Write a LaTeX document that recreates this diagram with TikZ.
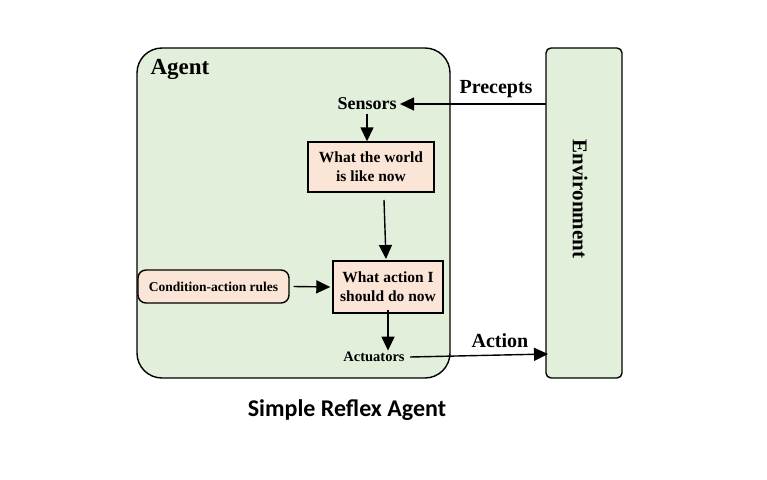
\documentclass[tikz,border=0pt]{standalone}
\usepackage{fontspec}
\setmainfont{Liberation Serif}
\newfontfamily\capfont{Carlito}
\usetikzlibrary{arrows.meta}
\definecolor{agr}{HTML}{E2EFDA}
\definecolor{pch}{HTML}{FBE5D6}
\begin{document}
\begin{tikzpicture}[x=1pt,y=-1pt,
  arr/.style={-{Triangle[length=14pt,width=13pt]},line width=1.4pt},
  box/.style={draw,line width=1.4pt,fill=pch,align=center,font=\bfseries\fontsize{15.5}{19}\selectfont,inner sep=2pt},
  lbl/.style={font=\bfseries\fontsize{18}{20}\selectfont}]
\useasboundingbox (0,0) rectangle (767,479);
\draw[line width=1.4pt,fill=agr,rounded corners=25pt] (137,48) rectangle (450,378);
\draw[line width=1.4pt,fill=agr,rounded corners=5pt] (546,48) rectangle (622,378);
\node[font=\bfseries\fontsize{23}{25}\selectfont,anchor=west] (ag) at (147,69) {Agent};
\node[font=\bfseries\fontsize{21}{23}\selectfont,rotate=-90] (env) at (580,199) {Environment};
\node[lbl] (sen) at (367,104) {Sensors};
\node[box,minimum width=126pt,minimum height=50pt] (b1) at (371,167) {What the world\\is like now};
\node[box,minimum width=110pt,minimum height=52pt] (b2) at (388,287) {What action I\\should do now};
\node[box,rounded corners=8pt,minimum width=151pt,minimum height=33pt,font=\bfseries\fontsize{13.5}{16}\selectfont] (cr) at (213.5,286.5) {Condition-action rules};
\node[font=\bfseries\fontsize{14.5}{16}\selectfont] (act) at (374,357) {Actuators};
\node[font=\bfseries\fontsize{20}{22}\selectfont] (pre) at (496,89) {Precepts};
\node[font=\bfseries\fontsize{20}{22}\selectfont] (ac) at (500,341) {Action};
\node[font=\capfont\bfseries\fontsize{24}{26}\selectfont] (cap) at (347,410) {Simple Reflex Agent};
\coordinate (pin) at (546,104);
\coordinate (eout) at (548,354);
\coordinate (m1) at (384,200);
\coordinate (m2) at (386,259);
\draw[arr] (pin) -- (sen.east);
\draw[arr] (sen.south) -- (sen.south |- b1.north);
\draw[arr] (m1) -- (m2);
\draw[arr] ([xshift=4pt]cr.east) -- ([xshift=-2pt]b2.west);
\draw[arr] ([yshift=4pt]b2.south) -- ([yshift=-2pt]act.north -| b2.south);
\draw[arr] ([xshift=2pt]act.east) -- (eout);
\end{tikzpicture}
\end{document}
